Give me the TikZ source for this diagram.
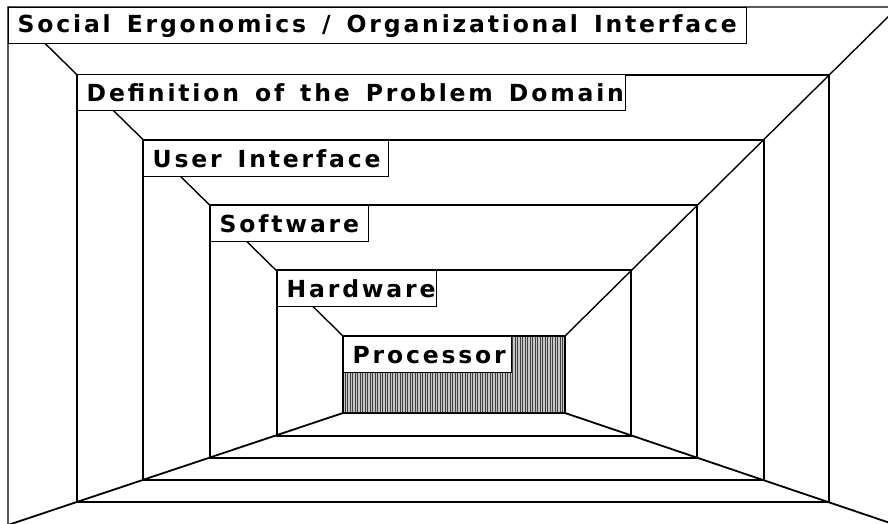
\documentclass[tikz,border=0pt]{standalone}
\usepackage{fontspec}
\newfontfamily\labfont[LetterSpace=12]{DejaVu Sans}
\newcommand\labsp{\hspace*{16pt}}
\begin{document}
\begin{tikzpicture}[x=1pt,y=-1pt,line width=1.4pt,
  lab/.style={draw,fill=white,line width=1.4pt,anchor=north west,minimum height=36pt,
    inner xsep=9pt,inner ysep=0pt,align=left,font=\labfont\bfseries\fontsize{23.5}{26}\selectfont},
  hatch/.style={line width=0.9pt,draw=black!75}]
\useasboundingbox (0,0) rectangle (888,524);
\begin{scope}
\clip (0,0) rectangle (888,524);
% corners of the nested frames: a = top left, b = top right, c = bottom right, d = bottom left
\coordinate (a0) at (8,7);    \coordinate (b0) at (898,7);   \coordinate (c0) at (899,526); \coordinate (d0) at (8,525);
\coordinate (a1) at (77,75);  \coordinate (b1) at (829,75);  \coordinate (c1) at (829,502); \coordinate (d1) at (77,502);
\coordinate (a2) at (143,140);\coordinate (b2) at (764,140); \coordinate (c2) at (764,480); \coordinate (d2) at (143,480);
\coordinate (a3) at (210,205);\coordinate (b3) at (697,205); \coordinate (c3) at (697,458); \coordinate (d3) at (210,458);
\coordinate (a4) at (277,270);\coordinate (b4) at (631,270); \coordinate (c4) at (631,436); \coordinate (d4) at (277,436);
\coordinate (a5) at (343,336);\coordinate (b5) at (565,336); \coordinate (c5) at (565,413); \coordinate (d5) at (343,413);
% hatched back wall
\fill[gray!45] (a5) rectangle (c5);
\foreach \x in {345,347.5,...,564} \draw[hatch] (\x,336) -- (\x,413);
% frames
\foreach \i in {0,...,5} \draw (a\i) -- (b\i) -- (c\i) -- (d\i) -- cycle;
% perspective edges
\draw (a0) -- (a5);
\draw (b0) -- (b5);
\draw[line width=1.8pt] (d0) -- (d5);
\draw[line width=1.8pt] (c0) -- (c5);
\end{scope}
% labels
\node[lab,text width=720pt] (l0) at (8,7)   {\mbox{Social\labsp Ergonomics\labsp/\labsp Organizational\labsp Interface}};
\node[lab,text width=530pt] (l1) at (77,74) {\mbox{Definition\labsp of\labsp the\labsp Problem\labsp Domain}};
\node[lab,text width=227pt] (l2) at (143,140) {\mbox{User\labsp Interface}};
\node[lab,text width=140pt] (l3) at (210,205) {Software};
\node[lab,text width=141pt] (l4) at (277,270) {Hardware};
\node[lab,text width=150pt] (l5) at (343,336) {Processor};
\end{tikzpicture}
\end{document}
